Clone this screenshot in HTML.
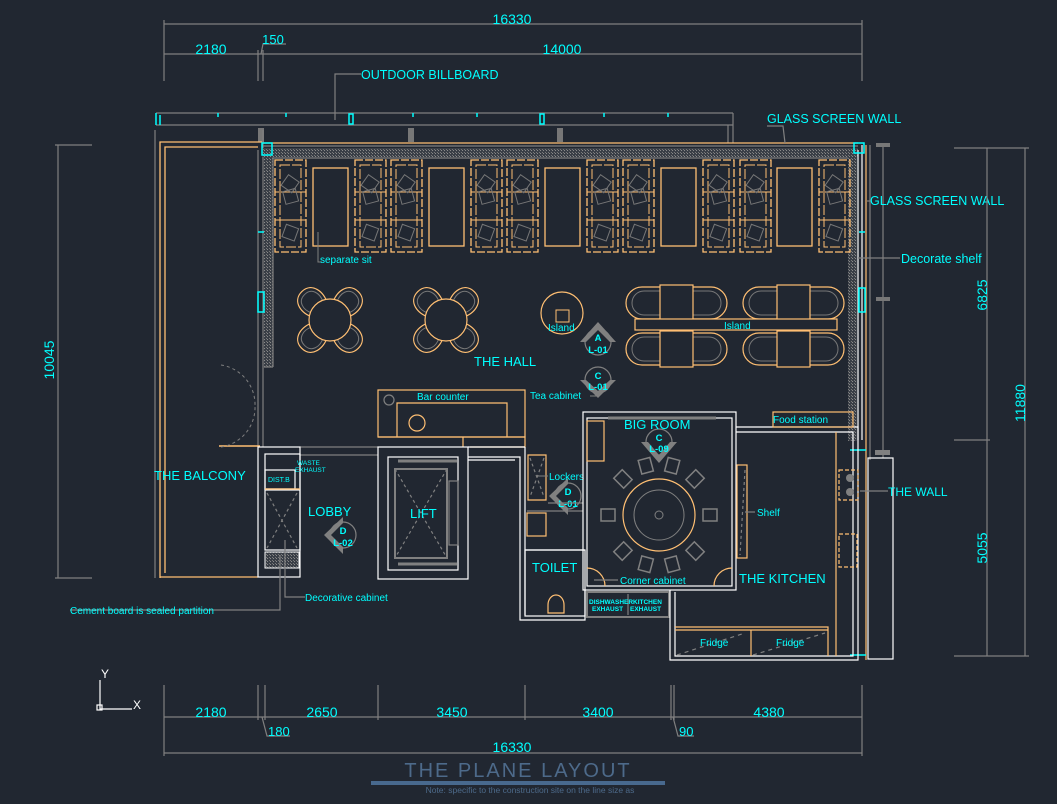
<!DOCTYPE html>
<html><head><meta charset="utf-8"><style>
html,body{margin:0;padding:0;background:#212731;}
svg{display:block;}
text{font-family:"Liberation Sans",sans-serif;fill:#00ffff;}
</style></head><body>
<svg width="1057" height="804" viewBox="0 0 1057 804" xmlns="http://www.w3.org/2000/svg">
<defs>
<pattern id="hatch" width="3" height="3" patternUnits="userSpaceOnUse"><rect width="3" height="3" fill="#3a3f47"/><rect width="1" height="1" fill="#8a8a8a"/><rect x="2" y="2" width="1" height="1" fill="#777"/></pattern>
<g id="booth">
<rect x="0" y="0" width="31" height="92" fill="none" stroke="#ffbf73" stroke-width="1.3" stroke-dasharray="8,2"/>
<rect x="5" y="5" width="21" height="82" fill="none" stroke="#ffbf73" stroke-width="1" stroke-dasharray="10,2"/>
<line x1="0" y1="32" x2="31" y2="32" stroke="#ffbf73" stroke-width="1"/>
<line x1="0" y1="60" x2="31" y2="60" stroke="#ffbf73" stroke-width="1"/>
<rect x="9" y="17" width="13" height="13" fill="none" stroke="#777" transform="rotate(35 15 23)"/>
<rect x="9" y="30" width="13" height="13" fill="none" stroke="#777" transform="rotate(-15 15 36)"/>
<rect x="9" y="66" width="13" height="13" fill="none" stroke="#777" transform="rotate(20 15 72)"/>
</g>
<g id="leaf">
<path d="M-10,-14 C-16,-24 -14,-40 0,-40 C14,-40 16,-24 10,-14 Z" fill="#212731" stroke="#ffbf73" stroke-width="1.2"/>
<path d="M-8,-18 C-12,-26 -10,-36 0,-36 C10,-36 12,-26 8,-18" fill="none" stroke="#777"/>
</g>
<g id="rtable">
<use href="#leaf" transform="rotate(45)"/>
<use href="#leaf" transform="rotate(135)"/>
<use href="#leaf" transform="rotate(225)"/>
<use href="#leaf" transform="rotate(315)"/>
<circle cx="0" cy="0" r="21" fill="#212731" stroke="#ffbf73" stroke-width="1.2"/>
</g>
<g id="sqset">
<path d="M0,0 h-18 a16,16 0 0 0 0,32 h18" fill="none" stroke="#ffbf73" stroke-width="1.2"/>
<path d="M33,0 h18 a16,16 0 0 1 0,32 h-18" fill="none" stroke="#ffbf73" stroke-width="1.2"/>
<path d="M0,4 h-16 a12,12 0 0 0 0,24 h16" fill="none" stroke="#777"/>
<path d="M33,4 h16 a12,12 0 0 1 0,24 h-16" fill="none" stroke="#777"/>
<rect x="0" y="-2" width="33" height="36" fill="#212731" stroke="#ffbf73" stroke-width="1.2"/>
</g>
<g id="chair"><rect x="-6" y="-58" width="12" height="14" fill="none" stroke="#808080" stroke-width="1.5"/></g>
</defs>

<!-- top dimensions -->
<g stroke="#808080" stroke-width="1.2" fill="none">
<line x1="164" y1="24" x2="862" y2="24"/>
<line x1="164" y1="54" x2="862" y2="54"/>
<line x1="164" y1="20" x2="164" y2="81"/>
<line x1="862" y1="20" x2="862" y2="81"/>
<line x1="258" y1="50" x2="258" y2="81"/>
<line x1="263" y1="50" x2="263" y2="81"/>
<path d="M261,54 L263,44 H286"/>
<path d="M361,74 H335 V120"/>
</g>
<text x="512" y="24" font-size="14" text-anchor="middle">16330</text>
<text x="211" y="54" font-size="14" text-anchor="middle">2180</text>
<text x="273" y="44" font-size="13" text-anchor="middle">150</text>
<text x="562" y="54" font-size="14" text-anchor="middle">14000</text>
<text x="361" y="79" font-size="12.5">OUTDOOR BILLBOARD</text>

<!-- billboard -->
<g stroke="#808080" stroke-width="1.2" fill="none">
<line x1="156" y1="113" x2="733" y2="113"/>
<line x1="156" y1="125" x2="733" y2="125"/>
<line x1="733" y1="113" x2="733" y2="143"/>
<line x1="728" y1="125" x2="728" y2="143"/>
</g>
<g stroke="#00ffff" stroke-width="1.5" fill="none">
<path d="M156,113 v12 M160,115 v10"/>
<line x1="218" y1="113" x2="218" y2="117"/><line x1="286" y1="113" x2="286" y2="117"/>
<rect x="349" y="114" width="4" height="10"/>
<line x1="413" y1="113" x2="413" y2="117"/><line x1="477" y1="113" x2="477" y2="117"/>
<rect x="540" y="114" width="4" height="10"/>
<line x1="604" y1="113" x2="604" y2="117"/><line x1="668" y1="113" x2="668" y2="117"/>
</g>
<g fill="#777"><rect x="258" y="128" width="6" height="14"/><rect x="408" y="128" width="6" height="14"/><rect x="557" y="128" width="6" height="14"/></g>

<!-- left / balcony -->
<g fill="none">
<line x1="155" y1="130" x2="155" y2="578" stroke="#808080" stroke-width="1.2"/>
<path d="M160,578 V142 H262" stroke="#ffbf73" stroke-width="1.3"/>
<path d="M165,573 V147 H258" stroke="#ffbf73" stroke-width="1.3"/>
<line x1="160" y1="577" x2="258" y2="577" stroke="#ffbf73" stroke-width="1.3"/>
<line x1="258" y1="150" x2="258" y2="447" stroke="#808080" stroke-width="1.2"/>
<line x1="263" y1="130" x2="263" y2="447" stroke="#808080" stroke-width="1.2"/>
<line x1="219" y1="446" x2="260" y2="446" stroke="#ffbf73" stroke-width="1.5"/>
<path d="M221,447 A40,40 0 0 0 255,406 M221,365 A40,40 0 0 1 255,406" stroke="#808080" stroke-dasharray="3,3"/>
<line x1="58" y1="145" x2="58" y2="578" stroke="#808080" stroke-width="1.2"/>
<line x1="55" y1="578" x2="92" y2="578" stroke="#808080" stroke-width="1.2"/>
<line x1="55" y1="145" x2="92" y2="145" stroke="#808080" stroke-width="1.2"/>
</g>
<text x="0" y="0" font-size="14" text-anchor="middle" transform="translate(54 360) rotate(-90)">10045</text>
<text x="154" y="480" font-size="13">THE BALCONY</text>

<!-- hall walls -->
<rect x="262" y="148" width="596" height="9" fill="url(#hatch)"/>
<rect x="264" y="157" width="9" height="210" fill="url(#hatch)"/>
<rect x="848" y="157" width="9" height="284" fill="url(#hatch)"/>
<g fill="none" stroke-width="1.2">
<line x1="262" y1="143" x2="858" y2="143" stroke="#ffbf73"/>
<line x1="262" y1="146" x2="858" y2="146" stroke="#808080"/>
<path d="M273,367 V158 H848" stroke="#808080"/>
<path d="M264,367 H273" stroke="#808080"/>
<line x1="858" y1="150" x2="858" y2="440" stroke="#fff"/>
<line x1="862" y1="145" x2="862" y2="440" stroke="#fff"/>
<line x1="866" y1="145" x2="866" y2="660" stroke="#ffbf73"/>
<line x1="870" y1="145" x2="870" y2="460" stroke="#808080"/>
<line x1="883" y1="143" x2="883" y2="458" stroke="#808080"/>
</g>
<g stroke="#00ffff" stroke-width="1.5" fill="none">
<rect x="854" y="143" width="10" height="10"/>
<rect x="859" y="288" width="6" height="24"/>
<line x1="859" y1="232" x2="865" y2="232"/>
<rect x="258" y="292" width="6" height="20"/>
<rect x="262" y="143" width="10" height="12"/>
<line x1="258" y1="232" x2="264" y2="232"/>
<line x1="850" y1="450" x2="866" y2="450"/>
<line x1="850" y1="655" x2="866" y2="655"/>
</g>
<g fill="#777"><rect x="876" y="143" width="14" height="4"/><rect x="876" y="297" width="14" height="4"/></g>

<!-- booths -->
<use href="#booth" x="275" y="160"/><use href="#booth" x="355" y="160"/><use href="#booth" x="391" y="160"/>
<use href="#booth" x="471" y="160"/><use href="#booth" x="507" y="160"/><use href="#booth" x="587" y="160"/>
<use href="#booth" x="623" y="160"/><use href="#booth" x="703" y="160"/><use href="#booth" x="740" y="160"/>
<use href="#booth" x="819" y="160"/>
<g fill="none" stroke="#ffbf73" stroke-width="1.3">
<rect x="313" y="168" width="35" height="78"/><rect x="429" y="168" width="35" height="78"/>
<rect x="545" y="168" width="35" height="78"/><rect x="661" y="168" width="35" height="78"/>
<rect x="777" y="168" width="35" height="78"/>
</g>
<path d="M318,232 V262 H322" stroke="#808080" fill="none"/>
<text x="320" y="263" font-size="10">separate sit</text>

<!-- round tables -->
<use href="#rtable" x="330" y="320"/>
<use href="#rtable" x="446" y="320"/>
<circle cx="562" cy="313" r="21" fill="none" stroke="#ffbf73" stroke-width="1.2"/>
<rect x="556" y="310" width="13" height="12" fill="none" stroke="#ffbf73"/>
<text x="548" y="331" font-size="10">Island</text>
<text x="474" y="366" font-size="13">THE HALL</text>

<!-- square tables & island -->
<use href="#sqset" x="660" y="287"/>
<use href="#sqset" x="777" y="287"/>
<use href="#sqset" x="660" y="333"/>
<use href="#sqset" x="777" y="333"/>
<rect x="635" y="319" width="202" height="11" fill="#212731" stroke="#ffbf73" stroke-width="1.2"/>
<text x="724" y="329" font-size="10">Island</text>

<!-- section markers -->
<g fill="none" stroke="#808080" stroke-width="1.2">
<circle cx="598" cy="342" r="13"/><circle cx="598" cy="380" r="13"/>
<circle cx="659" cy="442" r="13"/><circle cx="568" cy="496" r="13"/><circle cx="343" cy="535" r="13"/>
</g>
<g fill="#808080">
<path d="M580,342 L598,322 L616,342 L610,342 L598,330 L586,342Z"/>
<path d="M580,380 L598,398 L616,380 L610,380 L598,391 L586,380Z"/>
<path d="M641,442 L659,463 L677,442 L670,442 L659,455 L648,442Z"/>
<path d="M568,478 L549,496 L568,515 L568,508 L556,496 L568,484Z"/>
<path d="M343,517 L324,535 L343,554 L343,547 L331,535 L343,523Z"/>
</g>
<g font-size="9.5" text-anchor="middle" font-weight="bold">
<text x="598" y="341">A</text><text x="598" y="353">L-01</text>
<text x="598" y="379">C</text><text x="598" y="390">L-01</text>
<text x="659" y="441">C</text><text x="659" y="452">L-09</text>
<text x="568" y="495">D</text><text x="568" y="507">L-01</text>
<text x="343" y="534">D</text><text x="343" y="546">L-02</text>
</g>

<!-- bar counter / lift -->
<g fill="none" stroke-width="1.2">
<rect x="378" y="390" width="147" height="47" stroke="#ffbf73"/>
<path d="M397,437 V403 H507 V437" stroke="#ffbf73"/>
<circle cx="417" cy="423" r="8" stroke="#ffbf73"/>
<circle cx="389" cy="400" r="5" stroke="#808080"/>
<path d="M378,437 H463 V447 M463,437 H525 V447 H470" stroke="#ffbf73"/>
<path d="M300,447 H378 M300,455 H378" stroke="#808080"/>
<rect x="378" y="447" width="90" height="132" stroke="#fff"/>
<rect x="388" y="457" width="70" height="113" stroke="#fff"/>
<rect x="395" y="469" width="52" height="89" stroke="#808080" stroke-width="2"/>
<path d="M395,469 L447,558 M447,469 L395,558" stroke="#808080" stroke-dasharray="3,3"/>
<rect x="449" y="481" width="9" height="64" stroke="#808080"/>
<path d="M398,461 H457 M398,564 H457" stroke="#808080" stroke-width="3"/>
<path d="M468,457 H520 V620 H585 V590 M468,460 H515" stroke="#fff"/>
<path d="M468,447 H525" stroke="#fff"/>
<path d="M525,447 V550 H585 M525,550 V615" stroke="#fff"/>
<rect x="525" y="550" width="60" height="66" stroke="#fff"/>
<path d="M528,455 H546 V500 H528Z" stroke="#ffbf73"/>
<path d="M530,458 L544,497 M544,458 L530,497" stroke="#808080" stroke-dasharray="3,3"/>
<rect x="527" y="513" width="19" height="23" stroke="#ffbf73"/>
<path d="M527,511 H583 M548,503 H583" stroke="#808080"/>
<path d="M548,605 a8,10 0 0 1 16,0 v8 h-16z" stroke="#ffbf73"/>
</g>
<text x="417" y="400" font-size="10">Bar counter</text>
<text x="530" y="399" font-size="10">Tea cabinet</text>
<line x1="590" y1="396" x2="598" y2="396" stroke="#808080"/>
<text x="410" y="518" font-size="13">LIFT</text>
<text x="532" y="572" font-size="13">TOILET</text>
<text x="549" y="480" font-size="10">Lockers</text>
<line x1="538" y1="476" x2="548" y2="476" stroke="#808080"/>

<!-- lobby cabinet -->
<g fill="none" stroke-width="1.2">
<rect x="258" y="447" width="42" height="130" stroke="#fff"/>
<rect x="265" y="454" width="35" height="35" stroke="#fff"/>
<rect x="265" y="470" width="30" height="19" stroke="#fff"/>
<rect x="265" y="490" width="35" height="60" stroke="#fff"/>
<path d="M267,493 L297,548 M297,493 L267,548" stroke="#808080" stroke-dasharray="3,3"/>
<line x1="265" y1="489" x2="300" y2="489" stroke="#ffbf73"/>
</g>
<rect x="265" y="552" width="34" height="16" fill="url(#hatch)" stroke="#fff"/>
<text x="268" y="482" font-size="7">DIST.B</text>
<text x="297" y="465" font-size="6.5">WASTE</text>
<text x="295" y="472" font-size="6.5">EXHAUST</text>
<text x="308" y="516" font-size="13">LOBBY</text>
<g fill="none" stroke="#808080" stroke-width="1.2">
<path d="M280,555 V610 H70"/>
<path d="M285,540 V597 H305"/>
</g>
<text x="70" y="614" font-size="10">Cement board is sealed partition</text>
<text x="305" y="601" font-size="10">Decorative cabinet</text>

<!-- big room -->
<g fill="none" stroke-width="1.2">
<rect x="583" y="412" width="153" height="178" stroke="#fff"/>
<rect x="587" y="418" width="145" height="168" stroke="#fff"/>
<rect x="587" y="421" width="17" height="40" stroke="#ffbf73"/>
<path d="M608,418 H716" stroke="#808080" stroke-width="3"/>
<path d="M587,568 A18,18 0 0 1 605,586 M732,568 A18,18 0 0 0 714,586" stroke="#ffbf73"/>
<path d="M594,580 H618" stroke="#808080"/>
<rect x="587" y="592" width="82" height="25" stroke="#808080" stroke-width="2"/>
<line x1="628" y1="594" x2="628" y2="615" stroke="#808080"/>
</g>
<g transform="translate(659 515)">
<use href="#chair" transform="rotate(15)"/><use href="#chair" transform="rotate(-15)"/>
<use href="#chair" transform="rotate(45)"/><use href="#chair" transform="rotate(-45)"/>
<use href="#chair" transform="rotate(90)"/><use href="#chair" transform="rotate(-90)"/>
<use href="#chair" transform="rotate(135)"/><use href="#chair" transform="rotate(-135)"/>
<use href="#chair" transform="rotate(165)"/><use href="#chair" transform="rotate(-165)"/>
</g>
<circle cx="659" cy="515" r="36" fill="#212731" stroke="#ffbf73" stroke-width="1.2"/>
<circle cx="659" cy="515" r="25" fill="none" stroke="#808080"/>
<circle cx="659" cy="515" r="4" fill="none" stroke="#808080"/>
<text x="624" y="429" font-size="13">BIG ROOM</text>
<text x="620" y="584" font-size="10">Corner cabinet</text>
<text x="589" y="604" font-size="6.5" font-weight="bold">DISHWASHER</text>
<text x="592" y="611" font-size="6.5" font-weight="bold">EXHAUST</text>
<text x="633" y="604" font-size="6.5" font-weight="bold">KITCHEN</text>
<text x="630" y="611" font-size="6.5" font-weight="bold">EXHAUST</text>

<!-- kitchen -->
<g fill="none" stroke-width="1.2">
<path d="M736,427 H858 V660 H670 V590" stroke="#fff"/>
<path d="M736,432 H853 V656 H675 V592" stroke="#fff"/>
<rect x="773" y="412" width="80" height="15" stroke="#ffbf73"/>
<line x1="836" y1="432" x2="836" y2="656" stroke="#ffbf73"/>
<path d="M675,627 H828 V656 M675,630 H828 M751,630 V656" stroke="#ffbf73"/>
<path d="M677,655 L745,633 M753,655 L825,633" stroke="#808080" stroke-dasharray="4,4"/>
<rect x="737" y="465" width="10" height="93" stroke="#ffbf73"/>
<path d="M745,470 L740,555" stroke="#808080" stroke-dasharray="3,3"/>
<path d="M745,512 H755" stroke="#808080"/>
<rect x="839" y="470" width="19" height="30" stroke="#ffbf73" stroke-dasharray="4,2"/>
<rect x="839" y="534" width="18" height="33" stroke="#ffbf73" stroke-dasharray="4,2"/>
<rect x="868" y="458" width="25" height="201" stroke="#fff"/>
<path d="M860,491 H888" stroke="#808080"/>
</g>
<g fill="#808080"><circle cx="850" cy="478" r="4"/><circle cx="850" cy="492" r="4"/><rect x="875" y="450" width="15" height="5"/></g>
<text x="773" y="423" font-size="10">Food station</text>
<text x="757" y="516" font-size="10">Shelf</text>
<text x="739" y="583" font-size="13">THE KITCHEN</text>
<text x="700" y="646" font-size="10">Fridge</text>
<text x="776" y="646" font-size="10">Fridge</text>
<text x="888" y="496" font-size="12">THE WALL</text>

<!-- right labels -->
<g stroke="#808080" stroke-width="1.2" fill="none">
<path d="M785,143 L783,126 H767"/>
<path d="M867,201 H870"/>
<path d="M858,258 H900"/>
</g>
<text x="767" y="123" font-size="12.5">GLASS SCREEN WALL</text>
<text x="870" y="205" font-size="12.5">GLASS SCREEN WALL</text>
<text x="901" y="263" font-size="12.5">Decorate shelf</text>

<!-- right dims -->
<g stroke="#808080" stroke-width="1.2" fill="none">
<line x1="954" y1="148" x2="1029" y2="148"/>
<line x1="954" y1="440" x2="990" y2="440"/>
<line x1="954" y1="656" x2="1029" y2="656"/>
<line x1="987" y1="148" x2="987" y2="656"/>
<line x1="1025" y1="148" x2="1025" y2="656"/>
</g>
<text font-size="14" text-anchor="middle" transform="translate(987 295) rotate(-90)">6825</text>
<text font-size="14" text-anchor="middle" transform="translate(987 548) rotate(-90)">5055</text>
<text font-size="14" text-anchor="middle" transform="translate(1025 403) rotate(-90)">11880</text>

<!-- bottom dims -->
<g stroke="#808080" stroke-width="1.2" fill="none">
<line x1="164" y1="717" x2="862" y2="717"/>
<line x1="164" y1="753" x2="862" y2="753"/>
<line x1="164" y1="685" x2="164" y2="756"/>
<line x1="862" y1="685" x2="862" y2="756"/>
<line x1="258" y1="685" x2="258" y2="720"/><line x1="265" y1="685" x2="265" y2="720"/>
<line x1="378" y1="685" x2="378" y2="720"/><line x1="525" y1="685" x2="525" y2="720"/>
<line x1="671" y1="685" x2="671" y2="720"/><line x1="674" y1="685" x2="674" y2="720"/>
<path d="M262,717 L267,736 H290"/>
<path d="M673,717 L678,736 H694"/>
</g>
<text x="211" y="717" font-size="14" text-anchor="middle">2180</text>
<text x="322" y="717" font-size="14" text-anchor="middle">2650</text>
<text x="452" y="717" font-size="14" text-anchor="middle">3450</text>
<text x="598" y="717" font-size="14" text-anchor="middle">3400</text>
<text x="769" y="717" font-size="14" text-anchor="middle">4380</text>
<text x="268" y="736" font-size="13">180</text>
<text x="679" y="736" font-size="13">90</text>
<text x="512" y="752" font-size="14" text-anchor="middle">16330</text>

<!-- axis -->
<g stroke="#fff" stroke-width="1.2" fill="none">
<path d="M100,680 V709 H132"/><rect x="97" y="705" width="5" height="5"/>
</g>
<text x="101" y="678" font-size="12" style="fill:#fff">Y</text>
<text x="133" y="709" font-size="12" style="fill:#fff">X</text>

<!-- title -->
<text x="518" y="777" font-size="20" text-anchor="middle" letter-spacing="2" style="fill:#4d6a8a">THE PLANE LAYOUT</text>
<rect x="371" y="781" width="294" height="4" fill="#48698e"/>
<text x="530" y="793" font-size="8.5" text-anchor="middle" style="fill:#4d6a8a">Note: specific to the construction site on the line size as</text>
</svg>
</body></html>
